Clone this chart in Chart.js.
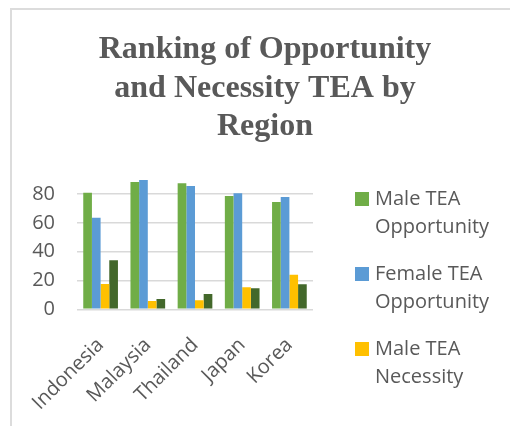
<!DOCTYPE html>
<html>
<head>
<meta charset="utf-8">
<script src="https://cdn.jsdelivr.net/npm/chart.js@4"></script>
<style>
  body { margin: 0; background: #fff; overflow: hidden; }
  #wrap { position: relative; width: 510px; height: 426px; }
  #frame { position: absolute; left: 10px; top: 8px; width: 600px; height: 600px;
           border-left: 2px solid #dcdcdc; border-top: 2px solid #dcdcdc; }
  #myChart { position: absolute; left: 0; top: 0; }
  /* legend box is too short for the last entry, like the original */
  #legend { position: absolute; left: 355px; top: 184px; height: 210px; overflow: hidden;
            font-family: "Open Sans"; font-size: 20px; line-height: 28px; color: #595959; }
  .item { position: relative; padding-left: 20px; width: 125px; margin-bottom: 19px; }
  .box { position: absolute; left: 0; top: 8px; width: 14px; height: 14px; }
</style>
</head>
<body>
<div id="wrap">
  <div id="frame"></div>
  <canvas id="myChart" width="510" height="426"></canvas>
  <div id="legend"></div>
</div>
<script>
const regions = ["Indonesia", "Malaysia", "Thailand", "Japan", "Korea"];
const seriesNames = ["Male TEA Opportunity", "Female TEA Opportunity", "Male TEA Necessity", "Female TEA Necessity"];
const seriesColors = ["#70AD47", "#5B9BD5", "#FFC000", "#43682B"];
const maleOpportunity = [81, 88.4, 87.5, 78.7, 74.5];
const femaleOpportunity = [63.6, 89.8, 85.6, 80.5, 78];
const maleNecessity = [17.6, 5.8, 6.2, 15.3, 24];
const femaleNecessity = [34, 7.2, 10.6, 14.6, 17.4];
const yTicks = [0, 20, 40, 60, 80];

const seriesValues = [maleOpportunity, femaleOpportunity, maleNecessity, femaleNecessity];

const legendEl = document.getElementById("legend");
seriesNames.forEach((name, i) => {
    const item = document.createElement("div");
    item.className = "item";
    const box = document.createElement("span");
    box.className = "box";
    box.style.background = seriesColors[i];
    item.appendChild(box);
    item.appendChild(document.createTextNode(name));
    legendEl.appendChild(item);
});

const tickFont = { family: "Open Sans", size: 20 };

new Chart("myChart", {
    type: "bar",
    data: {
        labels: regions,
        datasets: seriesNames.map((name, i) => ({
            label: name,
            data: seriesValues[i],
            backgroundColor: seriesColors[i],
            borderWidth: 0,
            categoryPercentage: 0.735,
            barPercentage: 1
        }))
    },
    options: {
        responsive: false,
        animation: false,
        layout: { padding: { left: 20, right: 0, top: 0, bottom: 0 } },
        plugins: {
            legend: { display: false },
            tooltip: { enabled: false },
            title: {
                display: true,
                text: ["Ranking of Opportunity", "and Necessity TEA by", "Region"],
                color: "#595959",
                font: { family: "Liberation Serif", size: 32, weight: "bold", lineHeight: 1.197 },
                padding: { top: 31, bottom: 30.9 }
            }
        },
        scales: {
            x: {
                grid: { display: false },
                border: { display: false },
                ticks: { color: "#595959", font: tickFont, minRotation: 45, maxRotation: 45, padding: 16 },
                afterFit: s => { s.height = 116.7; }
            },
            y: {
                min: 0,
                max: 92,
                grid: { color: "#d9d9d9", lineWidth: 1.5, drawTicks: false },
                border: { display: false },
                ticks: { color: "#595959", font: tickFont, padding: 22 },
                afterBuildTicks: s => { s.ticks = yTicks.map(v => ({ value: v })); },
                afterFit: s => { s.width = 57; }
            },
            // empty axis that keeps room on the right for the legend
            legendSpace: {
                position: "right",
                display: true,
                grid: { display: false },
                border: { display: false },
                ticks: { display: false },
                afterFit: s => { s.width = 197; }
            }
        }
    }
});
</script>
</body>
</html>
